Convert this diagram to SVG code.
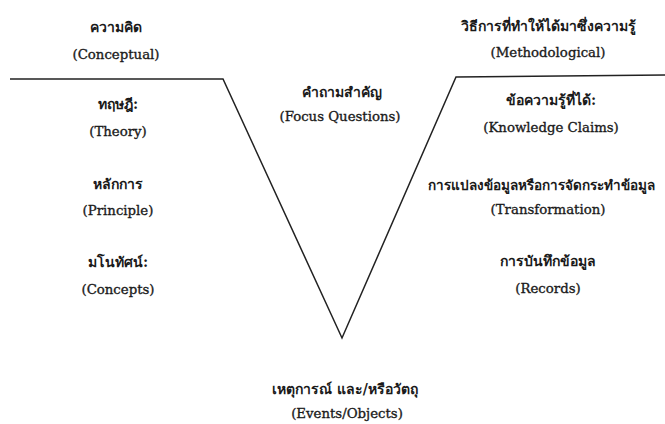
<svg xmlns="http://www.w3.org/2000/svg" width="665" height="424" viewBox="0 0 665 424">
<style>
.th{font-family:"DejaVu Serif","Noto Sans","Liberation Serif",serif;font-size:14px;font-weight:bold;fill:#1a1a1a;text-anchor:middle}
.en{font-family:"DejaVu Serif","Liberation Serif",serif;font-size:13.3px;fill:#1a1a1a;stroke:#1a1a1a;stroke-width:0.35;text-anchor:middle}
.ln{fill:none;stroke:#222;stroke-width:1.5;stroke-linejoin:miter}
</style>
<rect width="665" height="424" fill="#fff"/>
<g id="connectors">
<path class="ln" d="M10,79 L223,79 L342,338 L456,77 L665,75"/>
</g>
<g id="conceptual"><text class="th" x="116" y="32">ความคิด</text><text class="en" x="116" y="59">(Conceptual)</text></g>
<g id="theory"><text class="th" x="118" y="109">ทฤษฎี:</text><text class="en" x="118" y="136">(Theory)</text></g>
<g id="principle"><text class="th" x="118" y="189">หลักการ</text><text class="en" x="118" y="215">(Principle)</text></g>
<g id="concepts"><text class="th" x="118" y="267">มโนทัศน์:</text><text class="en" x="118" y="294">(Concepts)</text></g>
<g id="focus"><text class="th" x="342" y="97">คำถามสำคัญ</text><text class="en" x="340" y="121">(Focus Questions)</text></g>
<g id="methodological"><text class="th" x="548" y="31">วิธีการที่ทำให้ได้มาซึ่งความรู้</text><text class="en" x="548" y="57">(Methodological)</text></g>
<g id="claims"><text class="th" x="551" y="105">ข้อความรู้ที่ได้:</text><text class="en" x="551" y="132">(Knowledge Claims)</text></g>
<g id="transformation"><text class="th" x="428" y="190" style="text-anchor:start;font-size:13.5px">การแปลงข้อมูลหรือการจัดกระทำข้อมูล</text><text class="en" x="548" y="214">(Transformation)</text></g>
<g id="records"><text class="th" x="548" y="266">การบันทึกข้อมูล</text><text class="en" x="548" y="293">(Records)</text></g>
<g id="events"><text class="th" x="345" y="394">เหตุการณ์ และ/หรือวัตถุ</text><text class="en" x="347" y="418">(Events/Objects)</text></g>
</svg>
